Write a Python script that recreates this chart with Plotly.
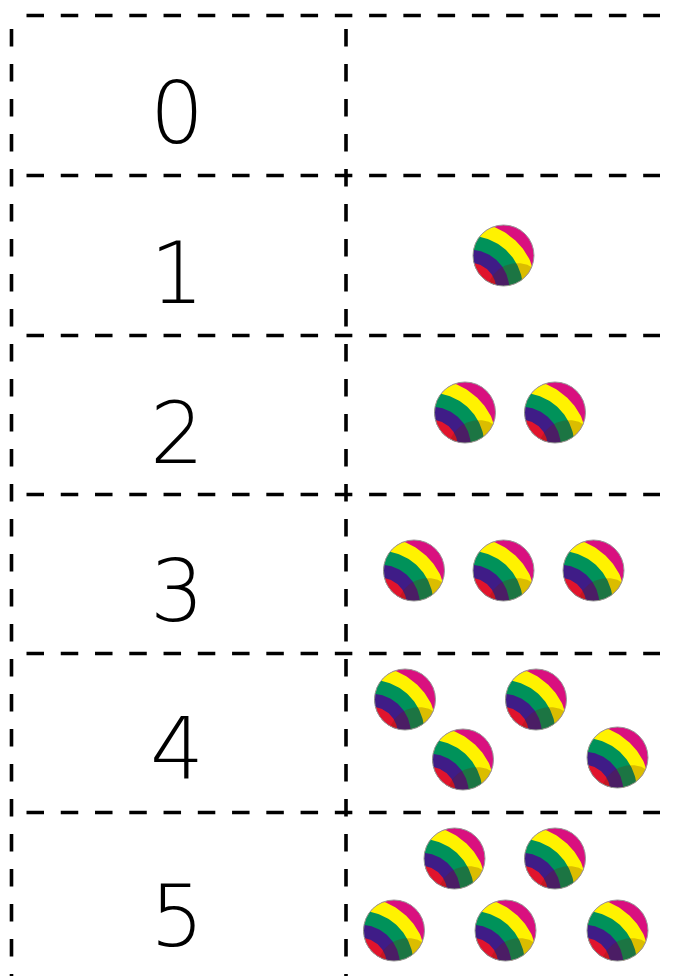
#!/usr/bin/env python3
"""Counting table: digit on the left, that many striped balls on the right."""

import numpy as np
import plotly.graph_objects as go

WIDTH = 674
HEIGHT = 976

# Table values (pixel-like units on the axes)
digits = ['0', '1', '2', '3', '4', '5']
digit_y = [122, 282, 442, 600, 758, 925]
digit_x = [177, 177, 177, 177, 177, 177]

row_lines = [15.5, 175.5, 335.5, 494.5, 653.5, 812.5]
col_lines = [11.5, 346]

ball_x = [503.5, 465, 555, 414, 503.5, 593.5, 405, 536, 463, 617.5, 454.5, 555, 394, 505.5, 617.5]
ball_y = [255.5, 412.5, 412.5, 570.5, 570.5, 570.5, 699.5, 699.5, 759.5, 757.5, 858.5, 858.5, 930.5, 930.5, 930.5]

BALL_R = 30.5

# Stripes are discs around one point low on the left of the ball, outermost first
STRIPE_ORIGIN = (-1.1, 1.1)
stripe_radius = [2.18, 1.74, 1.29, 0.86]
stripe_color = ['#FFF200', '#00925A', '#3F1C87', '#E0142D']
BALL_COLOR = '#D9107F'


def lens(cx, cy, r, ox, oy, R):
    """Outline of the overlap of two discs, as x and y lists."""
    t = np.linspace(0, 2 * np.pi, 240, endpoint=False)
    px = np.concatenate([cx + r * np.cos(t), ox + R * np.cos(t)])
    py = np.concatenate([cy + r * np.sin(t), oy + R * np.sin(t)])
    keep = (np.hypot(px - cx, py - cy) <= r + 1e-6) & (np.hypot(px - ox, py - oy) <= R + 1e-6)
    px, py = px[keep], py[keep]
    order = np.argsort(np.arctan2(py - py.mean(), px - px.mean()))
    return list(px[order]) + [px[order][0], None], list(py[order]) + [py[order][0], None]


def shade(cx, cy, r):
    """Darker crescent along the lower right edge of a ball."""
    return lens(cx, cy, r, cx + 0.45 * r, cy + 1.25 * r, 1.0 * r)


fig = go.Figure()

# Ball bases
fig.add_trace(go.Scatter(
    x=ball_x, y=ball_y, mode='markers',
    marker=dict(color=BALL_COLOR, size=2 * BALL_R, line=dict(width=0)),
))

# Stripes
for radius, color in zip(stripe_radius, stripe_color):
    xs, ys = [], []
    for cx, cy in zip(ball_x, ball_y):
        lx, ly = lens(cx, cy, BALL_R,
                      cx + STRIPE_ORIGIN[0] * BALL_R, cy + STRIPE_ORIGIN[1] * BALL_R,
                      radius * BALL_R)
        xs += lx
        ys += ly
    fig.add_trace(go.Scatter(
        x=xs, y=ys, mode='lines', fill='toself', fillcolor=color,
        line=dict(width=0),
    ))

# Shading on the lower right
xs, ys = [], []
for cx, cy in zip(ball_x, ball_y):
    lx, ly = shade(cx, cy, BALL_R)
    xs += lx
    ys += ly
fig.add_trace(go.Scatter(
    x=xs, y=ys, mode='lines', fill='toself', fillcolor='rgba(110,30,0,0.25)',
    line=dict(width=0),
))

# Grey rim
fig.add_trace(go.Scatter(
    x=ball_x, y=ball_y, mode='markers',
    marker=dict(color='rgba(0,0,0,0)', size=2 * BALL_R, line=dict(width=1, color='#999999')),
))

# Dashed table lines
for y in row_lines:
    fig.add_trace(go.Scatter(
        x=[26.5, 660], y=[y, y], mode='lines',
        line=dict(color='black', width=3.6, dash='17.5px,16.76px'),
    ))
for x in col_lines:
    fig.add_trace(go.Scatter(
        x=[x, x], y=[29, HEIGHT], mode='lines',
        line=dict(color='black', width=3.6, dash='17.5px,17.5px'),
    ))

# Digits
fig.add_trace(go.Scatter(
    x=digit_x, y=digit_y, mode='text', text=digits, textposition='middle center',
    textfont=dict(family='DejaVu Sans', weight=200, size=85, color='black'),
))

fig.update_layout(
    width=WIDTH,
    height=HEIGHT,
    margin=dict(l=0, r=0, t=0, b=0),
    paper_bgcolor='white',
    plot_bgcolor='white',
    showlegend=False,
    hovermode=False,
)
fig.update_xaxes(range=[0, WIDTH], visible=False, fixedrange=True)
fig.update_yaxes(range=[HEIGHT, 0], visible=False, fixedrange=True)

fig.write_html("out.html", config=dict(displayModeBar=False),
               post_script="document.body.style.margin='0';")
